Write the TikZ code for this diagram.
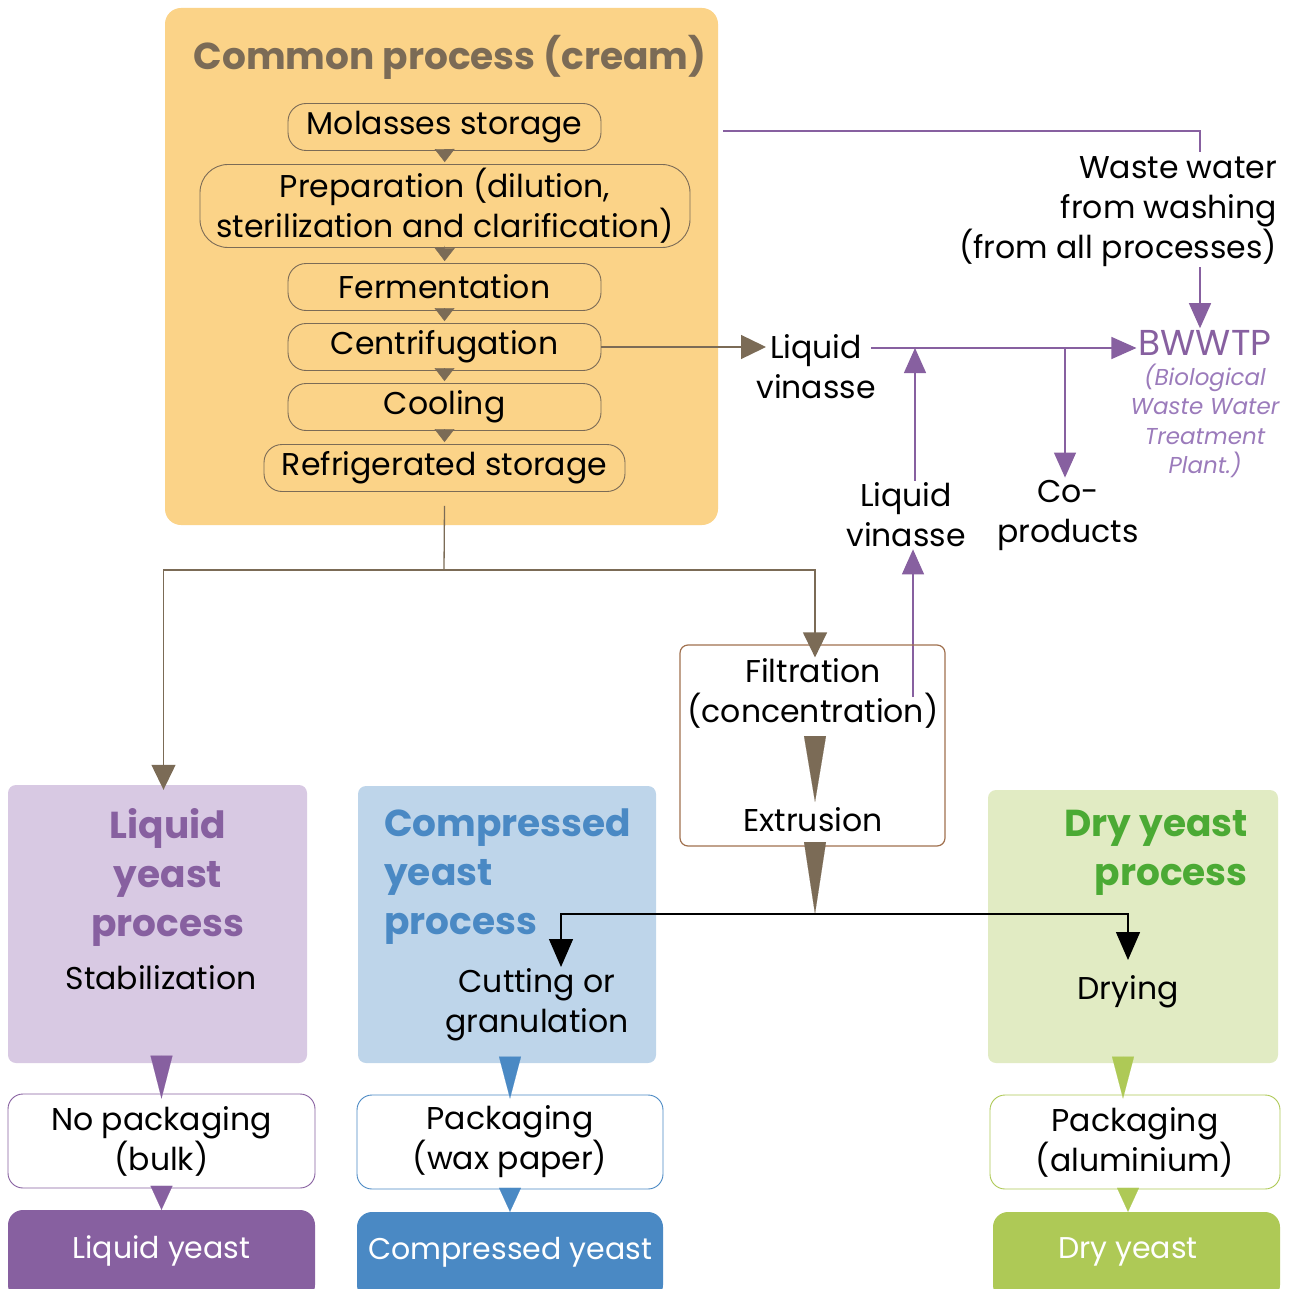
\documentclass[tikz,border=0pt]{standalone}
\usepackage{fontspec}
\setmainfont{Poppins}
\usetikzlibrary{arrows.meta, positioning}
\definecolor{cream}{RGB}{251,211,136}
\definecolor{brn}{RGB}{123,107,86}
\definecolor{filtbrn}{RGB}{160,112,78}
\definecolor{prp}{RGB}{135,96,160}
\definecolor{prplight}{RGB}{155,123,187}
\definecolor{lqbg}{RGB}{216,201,227}
\definecolor{cpbg}{RGB}{190,213,234}
\definecolor{cpblue}{RGB}{74,137,196}
\definecolor{drbg}{RGB}{225,235,195}
\definecolor{drgreen}{RGB}{75,170,52}
\definecolor{drlime}{RGB}{174,201,86}

\begin{document}
\begin{tikzpicture}[
    x=1pt, y=-1pt,
    txt/.style={font=\fontsize{31.5}{40}\selectfont, align=center, inner sep=2pt},
    ttl/.style={font=\fontsize{37.5}{49}\selectfont\bfseries, text=#1, inner sep=0pt},
    stepbox/.style={txt, draw=brn, line width=0.9pt, rounded corners=18pt, minimum height=47pt, minimum width=#1},
    procbox/.style={rounded corners=8pt, fill=#1, inner sep=0pt},
    packbox/.style={txt, draw=#1, fill=white, line width=0.9pt, rounded corners=15pt, minimum height=94pt},
    finbox/.style={txt, fill=#1, text=white, rounded corners=15pt},
    smalltri/.style={-{Triangle[width=20pt, length=13pt]}, draw=brn, fill=brn, shorten <=-2pt, shorten >=2pt},
    longtri/.style={-{Triangle[width=22pt, length=#1]}, draw=brn, fill=brn, line width=0.1pt},
    coltri/.style 2 args={-{Triangle[width=22pt, length=#1]}, draw=#2, fill=#2, line width=0.1pt},
    brline/.style={draw=brn, line width=1.3pt},
    brarrow/.style={brline, -{Triangle[width=24pt, length=25pt]}},
    prpline/.style={draw=prp, line width=1.3pt},
    prparrow/.style={prpline, -{Triangle[width=22pt, length=25pt]}},
    blkarrow/.style={draw=black, line width=1.4pt, -{Triangle[width=24pt, length=28pt]}}
]
\clip (0,0) rectangle (1288,1289);

% Common process
\node[procbox=cream, rounded corners=16pt, minimum width=553pt, minimum height=517pt] (cream) at (441.5,266.5) {};
\node[ttl=brn] (ctitle) at (450,57) {Common process (cream)};
\node[stepbox=313pt] (mol)   at (444.5,127) {Molasses storage};
\node[stepbox=490pt, minimum height=83pt, rounded corners=28pt] (prep) at (445,206) {Preparation (dilution,\\sterilization and clarification)};
\node[stepbox=313pt] (ferm)  at (444.5,287) {Fermentation};
\node[stepbox=313pt] (centr) at (444.5,347) {Centrifugation};
\node[stepbox=313pt] (cool)  at (444.5,407) {Cooling};
\node[stepbox=361pt] (refr)  at (444.5,468) {Refrigerated storage};

\draw[smalltri] (mol) -- (prep);
\draw[smalltri] (prep) -- (ferm);
\draw[smalltri] (ferm) -- (centr);
\draw[smalltri] (centr) -- (cool);
\draw[smalltri] (cool) -- (refr);

% Vinasse and waste water
\node[txt] (lv1) at (816,367) {Liquid\\vinasse};
\node[txt, text=prp, font=\fontsize{36}{40}\selectfont] (bw) at (1205,343) {BWWTP};
\node[txt, text=prplight, font=\fontsize{23}{29.5}\selectfont\itshape] (bwsub) at (1205,421) {(Biological\\Waste Water\\Treatment\\Plant.)};
\node[txt, align=right, anchor=east, inner sep=0pt] (waste) at (1277,212) {Waste water\\from washing\\(from all processes)};
\node[txt] (lv2) at (906,515) {Liquid\\vinasse};
\node[txt] (cop) at (1068,515) {Co-\\products};

\coordinate (lvin)  at (766,347);
\coordinate (lvout) at (871,348);
\coordinate (j1)    at (915,348);
\coordinate (j2)    at (1065,348);
\coordinate (wout)  at (723,131);
\coordinate (win)   at (1200,152);
\coordinate (fup)   at (913,697);

\draw[brarrow] (centr.east) -- (lvin);
\draw[prparrow] (lvout) -- (lvout -| bw.west);
\draw[prpline] (wout) -| (win);
\draw[prparrow] (waste.south -| win) -- (bw.north -| win);
\draw[prparrow] (lv2.north -| j1) -- (j1);
\draw[prparrow] (j2) -- (cop.north -| j2);
\draw[prparrow] (fup) -- (lv2.south -| fup);

% Filtration and extrusion
\node[draw=filtbrn, line width=1.2pt, rounded corners=8pt, minimum width=265pt, minimum height=201pt] (filtbox) at (812.5,745.5) {};
\node[txt] (filt) at (813,693) {Filtration\\(concentration)};
\node[txt] (extr) at (813,820) {Extrusion};
\coordinate (split1) at (444,570);
\coordinate (ftop)   at (815,736);
\coordinate (fbot)   at (815,802);
\coordinate (etop)   at (815,842);
\coordinate (split2) at (815,914);

% Three product processes
\node[procbox=lqbg, minimum width=299pt, minimum height=278pt] (lbox) at (157.5,924) {};
\node[procbox=cpbg, minimum width=298pt, minimum height=277pt] (cbox) at (507,924.5) {};
\node[procbox=drbg, minimum width=290pt, minimum height=273pt] (dbox) at (1133,926.5) {};

\draw[brline] ([yshift=-14pt]refr.south) -- (split1);
\draw[brarrow, shorten >=-5pt] (split1) -| ([xshift=6pt]lbox.north);
\draw[brarrow, shorten >=-13pt] (split1) -| (filtbox.north -| split2);
\draw[longtri=66pt] (ftop) -- (fbot);
\draw[longtri=72pt] (etop) -- (split2);

\node[ttl=prp, align=center] (lttl) at (168,877) {Liquid\\yeast\\process};
\node[ttl=cpblue, align=left, anchor=west] (cttl) at (384,877) {Compressed\\yeast\\process};
\node[ttl=drgreen, align=right, anchor=east] (dttl) at (1248,853) {Dry yeast\\process};

\node[txt] (stab) at (161,978) {Stabilization};
\node[txt] (cut) at (537,1005) {Cutting or\\granulation};
\node[txt] (dry) at (1128,992) {Drying};

\coordinate (cutin) at (561,967);
\coordinate (dryin) at (1128,960);
\draw[blkarrow] (split2) -| (cutin);
\draw[blkarrow] (split2) -| (dryin);

% Packaging and products
\node[packbox=prp, minimum width=307pt] (lpack) at (161.5,1141) {No packaging\\(bulk)};
\node[packbox=cpblue, minimum width=306pt] (cpack) at (510,1142) {Packaging\\(wax paper)};
\node[packbox=drlime, minimum width=290pt] (dpack) at (1135,1142) {Packaging\\(aluminium)};

\node[finbox=prp, minimum width=307pt, minimum height=90pt] (lfin) at (161.5,1255) {};
\node[finbox=cpblue, minimum width=306pt, minimum height=88pt] (cfin) at (510,1256) {};
\node[finbox=drlime, minimum width=287pt, minimum height=88pt] (dfin) at (1136.5,1256) {};
\node[txt, text=white, font=\fontsize{30}{40}\selectfont] (lfint) at (161.5,1251) {Liquid yeast};
\node[txt, text=white, font=\fontsize{30}{40}\selectfont] (cfint) at (510,1252) {Compressed yeast};
\node[txt, text=white, font=\fontsize{30}{40}\selectfont] (dfint) at (1128,1252) {Dry yeast};

\draw[coltri={43pt}{prp}, shorten <=-6pt, shorten >=-5pt] (lbox.south -| lpack) -- (lpack.north);
\draw[coltri={42pt}{cpblue}, shorten <=-6pt, shorten >=-4pt] (cbox.south -| cpack) -- (cpack.north);
\draw[coltri={42pt}{drlime}, shorten <=-6pt, shorten >=-4pt] (dbox.south -| 1123,0) -- (dpack.north -| 1123,0);
\draw[coltri={24pt}{prp}, shorten <=-2pt] (lpack.south) -- (lfin.north);
\draw[coltri={24pt}{cpblue}, shorten <=-2pt] (cpack.south) -- (cfin.north);
\draw[coltri={24pt}{drlime}, shorten <=-2pt] (dpack.south -| 1128,0) -- (dfin.north -| 1128,0);
\end{tikzpicture}
\end{document}
